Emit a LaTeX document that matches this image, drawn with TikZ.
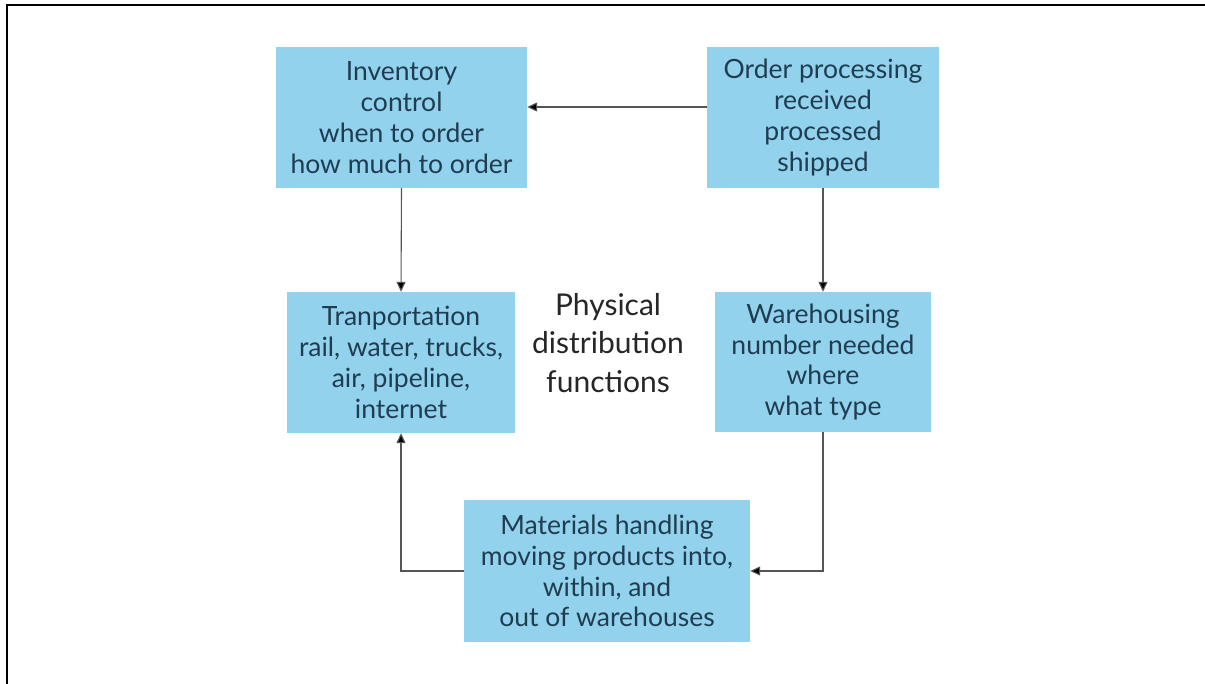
\documentclass[tikz,border=0pt]{standalone}
\usepackage{fontspec}
\setmainfont{Lato}
\usetikzlibrary{arrows.meta}
\definecolor{boxblue}{HTML}{93D2EC}
\definecolor{boxtext}{HTML}{1F3D52}
\definecolor{linegray}{HTML}{555555}
\tikzset{
  fbox/.style={fill=boxblue, draw=none, align=center, text=boxtext,
    font=\fontsize{26.5}{30.8}\selectfont, inner sep=0pt},
  conn/.style={draw=linegray, line width=1.1pt, -{Triangle[length=10pt,width=9pt,fill=black]}},
}
\begin{document}
\begin{tikzpicture}[x=1pt,y=-1pt]
\useasboundingbox (0,0) rectangle (1205,684);
\fill[white] (0,0) rectangle (1205,684);
\draw[line width=2.8pt] (7,684) -- (7,5) -- (1205,5);

\node[fbox, minimum width=251pt, minimum height=141pt] (inv) at (401.5,117.5)
  {Inventory\\control\\when to order\\how much to order};
\node[fbox, minimum width=232pt, minimum height=141pt] (ord) at (823,117.5)
  {Order processing\\received\\processed\\shipped};
\node[fbox, minimum width=228pt, minimum height=141pt] (tra) at (401,362.5)
  {Tranportation\\rail, water, trucks,\\air, pipeline,\\internet};
\node[fbox, minimum width=216pt, minimum height=140pt] (war) at (823,362)
  {Warehousing\\number needed\\where\\what type};
\node[fbox, minimum width=286pt, minimum height=142pt] (mat) at (607,571)
  {Materials handling\\moving products into,\\within, and\\out of warehouses};
\node[align=center, text=black!85, font=\fontsize{30}{38.5}\selectfont] (pdf) at (608,343)
  {Physical\\distribution\\functions};

\draw[conn] (ord.west |- 0,107) -- (inv.east |- 0,107);
\draw[conn] (inv.south) -- (tra.north);
\draw[conn] (ord.south) -- (war.north);
\coordinate (c1) at (823,571);
\coordinate (c2) at (401,571);
\draw[conn] (war.south) -- (c1) -- (mat.east);
\draw[conn] (mat.west) -- (c2) -- (tra.south);
\end{tikzpicture}
\end{document}
